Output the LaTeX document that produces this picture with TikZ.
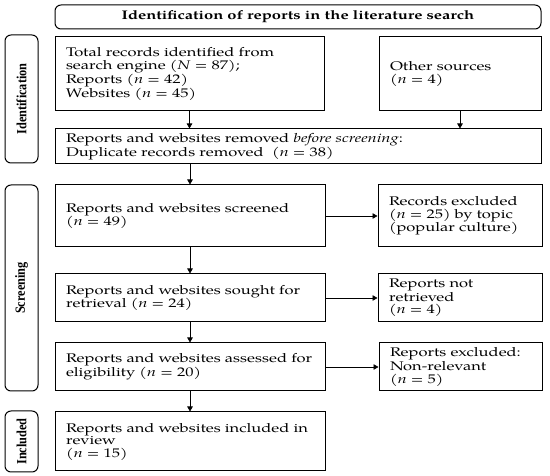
\documentclass[tikz,border=0pt]{standalone}
\usepackage{fontspec}
\usetikzlibrary{arrows.meta}
\newfontfamily\mainf{texgyrepagella-regular.otf}[FakeStretch=1.32, ItalicFont=texgyrepagella-italic.otf]
\newfontfamily\titlef{texgyrepagella-bold.otf}[FakeStretch=1.32]
\newfontfamily\labf{Liberation Serif}[FakeStretch=0.88]
\begin{document}
\begin{tikzpicture}[x=1pt,y=-1pt,
  box/.style={draw=black, line width=1pt, inner xsep=11pt, inner ysep=1pt, align=left,
    font=\mainf\fontsize{12.5}{12.5}\selectfont},
  rbox/.style={draw=black, line width=1pt, rounded corners=6pt},
  lab/.style={rbox, rotate=90, font=\labf\bfseries\fontsize{14}{15}\selectfont, inner sep=0pt},
  arr/.style={draw=black, line width=0.7pt, -{Triangle[length=5pt,width=5.5pt]}}]
\useasboundingbox (0,0) rectangle (550,476);
% title
\node[rbox, minimum width=486pt, minimum height=24pt, font=\titlef\fontsize{12.5}{13}\selectfont] (title) at (298,17) {Identification of reports in the literature search};
% side labels (rotated: width is vertical extent)
\node[lab, minimum width=128pt, minimum height=33pt] (idlab) at (21.5,99) {Identification};
\node[lab, minimum width=206pt, minimum height=33pt] (sclab) at (21.5,288) {Screening};
\node[lab, minimum width=61pt, minimum height=33pt] (inlab) at (21.5,441.5) {Included};
% boxes
\node[box, text width=247pt, minimum height=74pt] (total) at (189.5,74) {Total records identified from\\search engine (\textit{N} = 87);\\Reports (\textit{n} = 42)\\Websites (\textit{n} = 45)};
\node[box, text width=140pt, minimum height=74pt] (other) at (460,74) {Other sources\\(\textit{n} = 4)};
\node[box, text width=464pt, minimum height=35pt] (removed) at (298,146.5) {Reports and websites removed \textit{before screening}:\\Duplicate records removed~ (\textit{n} = 38)};
\node[box, text width=248pt, minimum height=62pt] (screened) at (190,216) {Reports and websites screened\\(\textit{n} = 49)};
\node[box, text width=142pt, minimum height=62pt] (excl1) at (460,216) {Records excluded\\(\textit{n} = 25) by topic\\(popular culture)};
\node[box, text width=248pt, minimum height=48pt] (sought) at (190,298) {Reports and websites sought for\\retrieval (\textit{n} = 24)};
\node[box, text width=142pt, minimum height=48pt] (notret) at (460,298) {Reports not\\retrieved\\(\textit{n} = 4)};
\node[box, text width=248pt, minimum height=48pt] (assessed) at (190,367) {Reports and websites assessed for\\eligibility (\textit{n} = 20)};
\node[box, text width=141pt, minimum height=48pt] (excl2) at (460.5,367) {Reports excluded:\\Non-relevant\\(\textit{n} = 5)};
\node[box, text width=248pt, minimum height=59pt] (included) at (190,441.5) {Reports and websites included in\\review\\(\textit{n} = 15)};
% arrows
\draw[arr] (total.south) -- (total.south |- removed.north);
\draw[arr] (other.south) -- (other.south |- removed.north);
\draw[arr] (removed.south -| screened.north) -- (screened.north);
\draw[arr] (screened) -- (sought);
\draw[arr] (sought) -- (assessed);
\draw[arr] (assessed) -- (included);
\draw[arr] (screened) -- (excl1);
\draw[arr] (sought) -- (notret);
\draw[arr] (assessed) -- (excl2);
\end{tikzpicture}
\end{document}
